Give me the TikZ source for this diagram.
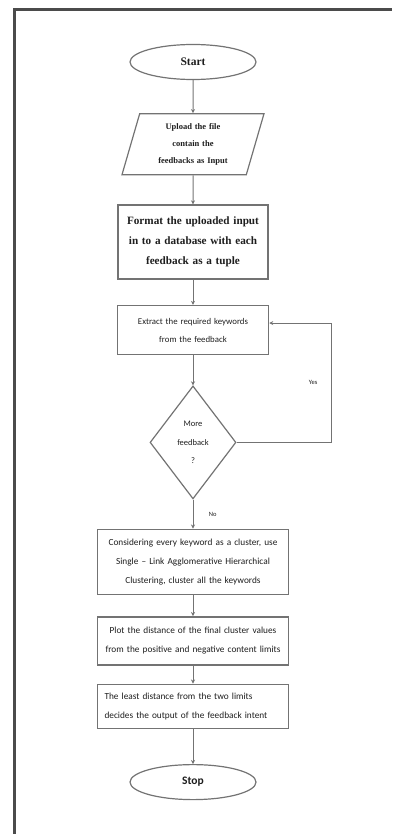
\documentclass[tikz,border=0pt]{standalone}
\usepackage{fontspec}
\setmainfont{Carlito}
\newfontfamily\serifface{Liberation Serif}
\usetikzlibrary{positioning,arrows.meta,shapes.geometric}
\usepackage{xcolor}
\definecolor{linegray}{RGB}{115,115,115}
\definecolor{framegray}{RGB}{75,75,75}
\definecolor{textgray}{RGB}{30,30,30}

\begin{document}
\begin{tikzpicture}[
  x=1pt, y=1pt,
  node distance=25pt,
  term/.style={ellipse, draw=linegray, line width=1.2pt, minimum width=126pt,
               minimum height=35pt, inner sep=0pt, text=textgray},
  io/.style={trapezium, trapezium left angle=68, trapezium right angle=112,
             trapezium stretches body, draw=linegray, line width=1.2pt,
             minimum width=142pt, minimum height=61pt, inner sep=1pt,
             text width=90pt, align=center, text=textgray,
             font=\serifface\bfseries\fontsize{8.5}{17}\selectfont},
  proc/.style={rectangle, draw=linegray, line width=1.5pt, minimum width=191pt,
               text width=185pt, inner sep=2pt, align=center, text=textgray,
               font=\fontsize{9.3}{19}\selectfont},
  dec/.style={diamond, draw=linegray, line width=1.2pt, minimum width=86pt,
              minimum height=113pt, inner sep=0pt, align=center, text=textgray,
              font=\fontsize{8.5}{18.5}\selectfont},
  lbl/.style={text=textgray, font=\fontsize{6.5}{7}\selectfont},
  arr/.style={-{Stealth[length=4pt,width=4pt]}, line width=1pt, draw=linegray}
]
\useasboundingbox (0,0) rectangle (392,-834);
% page frame
\draw[framegray, line width=3pt] (14,-834) -- (14,-9.5) -- (392,-9.5);

\node[term, font=\serifface\bfseries\fontsize{11.5}{12}\selectfont] (start) at (193,-62) {Start};
\node[io, below=33pt of start] (upload) {Upload the file\\contain the\\feedbacks as Input};
\node[proc, below=29pt of upload, minimum width=150pt, text width=146pt,
      minimum height=74pt, font=\serifface\bfseries\fontsize{11.2}{20}\selectfont] (format)
  {Format the uploaded input\\in to a database with each\\feedback as a tuple};
\node[proc, below=25pt of format, minimum width=151pt, text width=145pt,
      minimum height=49pt, font=\fontsize{8.8}{18}\selectfont] (extract)
  {Extract the required keywords\\from the feedback};
\node[dec, below=30pt of extract] (more) {More\\feedback\\?};
\node[proc, below=29pt of more, minimum height=65pt] (cluster)
  {Considering every keyword as a cluster, use\\Single -- Link Agglomerative Hierarchical\\Clustering, cluster all the keywords};
\node[proc, below=21pt of cluster, minimum height=48pt] (plot)
  {Plot the distance of the final cluster values\\from the positive and negative content limits};
\node[proc, below=18pt of plot, minimum height=44pt, align=left, inner xsep=6pt,
      text width=177pt] (least)
  {The least distance from the two limits\\decides the output of the feedback intent};
\node[term, below=35pt of least, font=\bfseries\fontsize{11.5}{12}\selectfont] (stop) {Stop};

\coordinate[right=62pt of extract.east, yshift=7pt] (loop);

\draw[arr] (start) -- (upload);
\draw[arr] (upload) -- (format);
\draw[arr] (format) -- (extract);
\draw[arr] (extract) -- (more);
\draw[arr] (more.east) -| (loop) node[lbl, pos=0.75, left=10pt] {Yes} -- (extract.east |- loop);
\draw[arr] (more) -- (cluster) node[lbl, midway, right=12pt] {No};
\draw[arr] (cluster) -- (plot);
\draw[arr] (plot) -- (least);
\draw[arr] (least) -- (stop);
\end{tikzpicture}
\end{document}
